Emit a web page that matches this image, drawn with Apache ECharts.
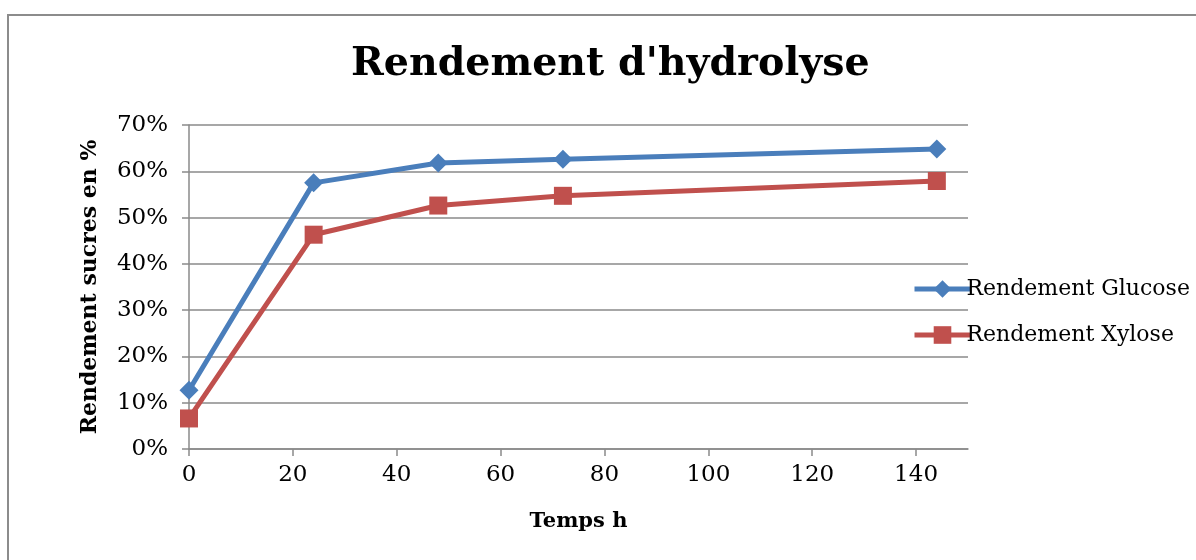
<!DOCTYPE html>
<html>
<head>
<meta charset="utf-8">
<script src="https://cdn.jsdelivr.net/npm/echarts@6/dist/echarts.min.js"></script>
<style>
  html, body { margin: 0; padding: 0; background: #fff; }
  #chart { width: 1196px; height: 560px; }
</style>
</head>
<body>
<div id="chart"></div>
<script>
// Hydrolysis time (hours)
const hours = [0, 24, 48, 72, 144];
// Sugar yields (fraction)
const glucoseYield = [0.127, 0.575, 0.618, 0.626, 0.648];
const xyloseYield = [0.066, 0.463, 0.526, 0.547, 0.579];
const seriesNames = ['Rendement Glucose', 'Rendement Xylose'];
const xTicks = [0, 20, 40, 60, 80, 100, 120, 140];
const titleText = "Rendement d'hydrolyse";
const xAxisName = 'Temps h';
const yAxisName = 'Rendement sucres en %';

const serif = '"DejaVu Serif", "Liberation Serif", serif';
const gridColor = '#8a8a8a';

const chart = echarts.init(document.getElementById('chart'));
chart.setOption({
  animation: false,
  backgroundColor: '#fff',
  graphic: [{
    type: 'rect',
    shape: { x: 8, y: 15, width: 1400, height: 800 },
    style: { fill: 'none', stroke: '#8c8c8c', lineWidth: 2 },
    silent: true
  }],
  title: {
    text: titleText,
    left: 346,
    top: 40,
    textStyle: { fontFamily: serif, fontWeight: 'bold', fontSize: 39.5, color: '#000' }
  },
  legend: {
    orient: 'vertical',
    left: 907,
    top: 273,
    itemWidth: 56,
    itemHeight: 22,
    itemGap: 24,
    lineStyle: { width: 5 },
    textStyle: { fontFamily: serif, fontSize: 22, color: '#000', padding: [0, 0, 0, -9] },
    data: seriesNames
  },
  grid: { left: 189, right: 228, top: 125, bottom: 111 },
  xAxis: {
    type: 'value',
    min: 0,
    max: 150,
    interval: 10,
    name: xAxisName,
    nameLocation: 'middle',
    nameGap: 62,
    nameTextStyle: { fontFamily: serif, fontWeight: 'bold', fontSize: 21, color: '#000' },
    axisLine: { show: true, lineStyle: { color: gridColor, width: 1.5 } },
    axisTick: { show: true, length: 7, customValues: xTicks, lineStyle: { color: gridColor, width: 1.5 } },
    axisLabel: {
      fontFamily: serif, fontSize: 23, color: '#000', margin: 15,
      customValues: xTicks
    },
    splitLine: { show: false }
  },
  yAxis: {
    type: 'value',
    min: 0,
    max: 0.7,
    interval: 0.1,
    name: yAxisName,
    nameLocation: 'middle',
    nameGap: 88,
    nameTextStyle: { fontFamily: serif, fontWeight: 'bold', fontSize: 22, color: '#000' },
    axisLine: { show: true, lineStyle: { color: gridColor, width: 1.5 } },
    axisTick: { show: true, length: 7, lineStyle: { color: gridColor, width: 1.5 } },
    axisLabel: {
      fontFamily: serif, fontSize: 23, color: '#000', margin: 21,
      formatter: v => Math.round(v * 100) + '%'
    },
    splitLine: { show: true, lineStyle: { color: gridColor, width: 1.5 } }
  },
  series: [
    {
      name: seriesNames[0],
      type: 'line',
      data: hours.map((h, i) => [h, glucoseYield[i]]),
      symbol: 'diamond',
      symbolSize: 19,
      color: '#4a7ebb',
      lineStyle: { width: 5, color: '#4a7ebb' },
      itemStyle: { color: '#4a7ebb' }
    },
    {
      name: seriesNames[1],
      type: 'line',
      data: hours.map((h, i) => [h, xyloseYield[i]]),
      symbol: 'rect',
      symbolSize: 18,
      color: '#c0504d',
      lineStyle: { width: 5, color: '#c0504d' },
      itemStyle: { color: '#c0504d' }
    }
  ]
});
</script>
</body>
</html>
